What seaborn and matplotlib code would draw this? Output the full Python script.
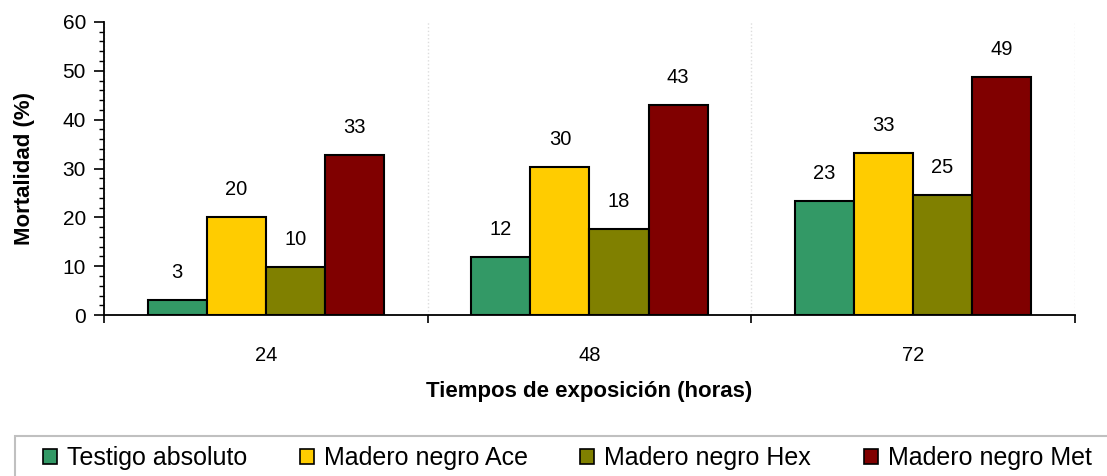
import pandas as pd
import matplotlib
matplotlib.use('Agg')
import matplotlib.pyplot as plt
from matplotlib.patches import Rectangle
from matplotlib.ticker import MultipleLocator, FixedLocator
import seaborn as sns

# datos
tiempos = ['24', '48', '72']
tratamientos = ['Testigo absoluto', 'Madero negro Ace', 'Madero negro Hex', 'Madero negro Met']
testigo = [3.0, 11.9, 23.4]
ace = [20.1, 30.3, 33.2]
hex_ = [9.9, 17.6, 24.6]
met = [32.8, 43.0, 48.8]
colores = ['#339966', '#FFCC00', '#808000', '#800000']

sns.set_style('white')
plt.rcParams['font.family'] = ['Liberation Sans', 'DejaVu Sans']
plt.rcParams['text.color'] = 'black'
plt.rcParams['axes.labelcolor'] = 'black'
plt.rcParams['xtick.color'] = 'black'
plt.rcParams['ytick.color'] = 'black'

df = pd.DataFrame({
    'tiempo': tiempos * 4,
    'tratamiento': [t for t in tratamientos for _ in tiempos],
    'mortalidad': testigo + ace + hex_ + met,
})

W, H = 1107, 476
fig = plt.figure(figsize=(W / 100, H / 100), dpi=100)
ax = fig.add_axes([0.094, 0.338, 0.877, 0.616])

sns.barplot(data=df, x='tiempo', y='mortalidad', hue='tratamiento',
            order=tiempos, hue_order=tratamientos, palette=colores,
            width=0.73, edgecolor='black', linewidth=1.5, saturation=1,
            ax=ax)

for cont in ax.containers:
    ax.bar_label(cont, labels=[f'{round(b.get_height())}' for b in cont],
                 padding=13, fontsize=14.5)

ax.set_xlim(-0.5, 2.5)
ax.set_ylim(0, 60)
ax.yaxis.set_major_locator(MultipleLocator(10))
ax.yaxis.set_minor_locator(MultipleLocator(2))
ax.tick_params(axis='y', which='major', direction='out', length=7, width=1.2,
               labelsize=15, left=True, pad=6)
ax.tick_params(axis='y', which='minor', direction='out', length=3.5, width=1, left=True)

# ticks del eje x en los límites de categoría
ax.xaxis.set_minor_locator(FixedLocator([-0.5, 0.5, 1.5, 2.5]))
ax.tick_params(axis='x', which='minor', direction='out', length=6, width=1.2, bottom=True)
ax.tick_params(axis='x', which='major', length=0, labelsize=14.5, pad=22)
ax.grid(axis='x', which='minor', color='#dddddd', linestyle=':', linewidth=1)
ax.set_axisbelow(True)

for s in ['top', 'right']:
    ax.spines[s].set_visible(False)
for s in ['left', 'bottom']:
    ax.spines[s].set_color('black')
    ax.spines[s].set_linewidth(1.3)

ax.set_ylabel('Mortalidad (%)', fontsize=16, fontweight='bold', labelpad=20)
ax.set_xlabel('Tiempos de exposición (horas)', fontsize=16, fontweight='bold', labelpad=12)

# marco de la leyenda (se corta en los bordes como en el original)
fig.patches.append(Rectangle((15 / W, -0.2), 1.2, 0.2 + 40 / H,
                             transform=fig.transFigure, facecolor='white',
                             edgecolor='#c0c0c0', linewidth=1.5, zorder=0))

handles, labels = ax.get_legend_handles_labels()
ax.get_legend().remove()
leg = fig.legend(handles, labels, loc='center left', ncol=4,
                 bbox_to_anchor=(43 / W, 1 - 458 / H),
                 fontsize=18, frameon=False,
                 handlelength=0.56, handleheight=0.56, handletextpad=0.4,
                 columnspacing=2.1, borderpad=0, borderaxespad=0)
for h in leg.legend_handles:
    h.set_edgecolor('black')
    h.set_linewidth(1.2)

plt.savefig('out.png', dpi=100)
plt.close()
